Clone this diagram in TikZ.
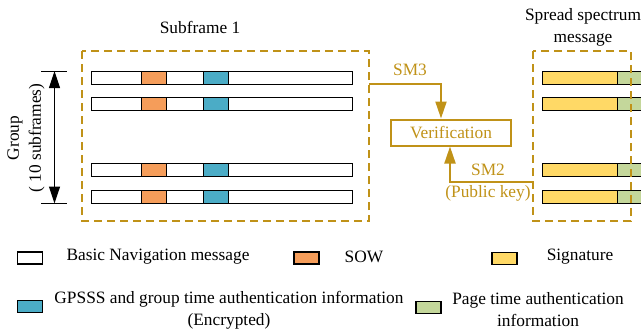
\documentclass[tikz,border=0pt]{standalone}
\usepackage{fontspec}
\setmainfont{Liberation Serif}
\usetikzlibrary{arrows.meta}

\definecolor{gold}{RGB}{192,146,24}
\definecolor{sowor}{RGB}{245,157,90}
\definecolor{gpblue}{RGB}{75,172,198}
\definecolor{sigyel}{RGB}{255,217,102}
\definecolor{pggreen}{RGB}{196,215,155}

\tikzset{
  txt/.style={inner sep=0pt, font=\fontsize{17.4}{22}\selectfont, align=center},
  goldtxt/.style={txt, text=gold},
  framebox/.style={draw=gold, line width=2bp, dash pattern=on 8bp off 5bp},
  seg/.style={draw=black, line width=1.2bp},
  goldline/.style={draw=gold, line width=2bp, -{Triangle[length=17bp,width=11bp]}},
  verbox/.style={draw=gold, line width=2bp, minimum width=120bp, minimum height=26bp,
    inner sep=0pt, text=gold, font=\fontsize{17.4}{22}\selectfont},
  legbox/.style={seg, minimum width=25bp, minimum height=12bp, inner sep=0pt}
}

% one subframe row: white bar with SOW and encrypted GPSSS fields
\newcommand{\subrow}[1]{%
  \draw[seg, fill=white] (91.5,#1) rectangle (352.5,#1+13);
  \draw[seg, fill=sowor] (141.5,#1) rectangle (166.5,#1+13);
  \draw[seg, fill=gpblue] (203.5,#1) rectangle (228.5,#1+13);
}
% one spread spectrum row: signature followed by page time field
\newcommand{\ssrow}[1]{%
  \draw[seg, fill=sigyel] (542.5,#1) rectangle (617.5,#1+13);
  \draw[seg, fill=pggreen] (617.5,#1) rectangle (660,#1+13);
}

\begin{document}
\begin{tikzpicture}[x=1bp, y=-1bp]
\useasboundingbox (0,0) rectangle (641,333);
\clip (0,0) rectangle (641,333);

% titles
\node[txt] (subtitle) at (200,27) {Subframe 1};
\node[txt] (sstitle) at (583,27) {Spread spectrum\\message};

% subframe rows
\foreach \y in {71.5,97.5,163.5,190.5} { \subrow{\y} }
% spread spectrum rows
\foreach \y in {71.5,97.5,163.5,190.5} { \ssrow{\y} }

% dashed frames
\draw[framebox] (82,51) rectangle (369,221);
\draw[framebox] (533,51) rectangle (631,221);

% group span
\coordinate (gtop) at (54.5,71);
\coordinate (gbot) at (54.5,203.5);
\draw[line width=1.2bp] (41,71.5) -- (66.7,71.5);
\draw[line width=1.2bp] (41,203.5) -- (66.7,203.5);
\draw[line width=1.2bp, {Triangle[length=17bp,width=11bp]}-{Triangle[length=17bp,width=11bp]}] (gtop) -- (gbot);
\node[txt, rotate=90] (grouplbl) at (26,138) {Group\\( 10 subframes)};

% verification
\node[verbox] (verif) at (451,132.5) {Verification};
\coordinate (sm3src) at (369,84);
\coordinate (sm2src) at (533,182);
\draw[goldline] (sm3src) -| ([xshift=-10bp]verif.north);
\draw[goldline] (sm2src) -| ([xshift=-1bp]verif.south);
\node[goldtxt] (sm3lbl) at (410,70) {SM3};
\node[goldtxt] (sm2lbl) at (488,183) {SM2\\(Public key)};

% legend
\node[legbox, fill=white] (lgbasic) at (30,258) {};
\node[txt] (ltbasic) at (158,256.7) {Basic Navigation message};
\node[legbox, fill=sowor] (lgsow) at (306.5,258) {};
\node[txt] (ltsow) at (364,256.5) {SOW};
\node[legbox, fill=sigyel] (lgsig) at (504.5,258.5) {};
\node[txt] (ltsig) at (580,256.5) {Signature};
\node[legbox, fill=gpblue] (lggps) at (30,306.5) {};
\node[txt] (ltgps) at (229,310) {GPSSS and group time authentication information\\(Encrypted)};
\node[legbox, fill=pggreen] (lgpage) at (428.5,307.5) {};
\node[txt] (ltpage) at (538,310) {Page time authentication\\information};
\end{tikzpicture}
\end{document}
